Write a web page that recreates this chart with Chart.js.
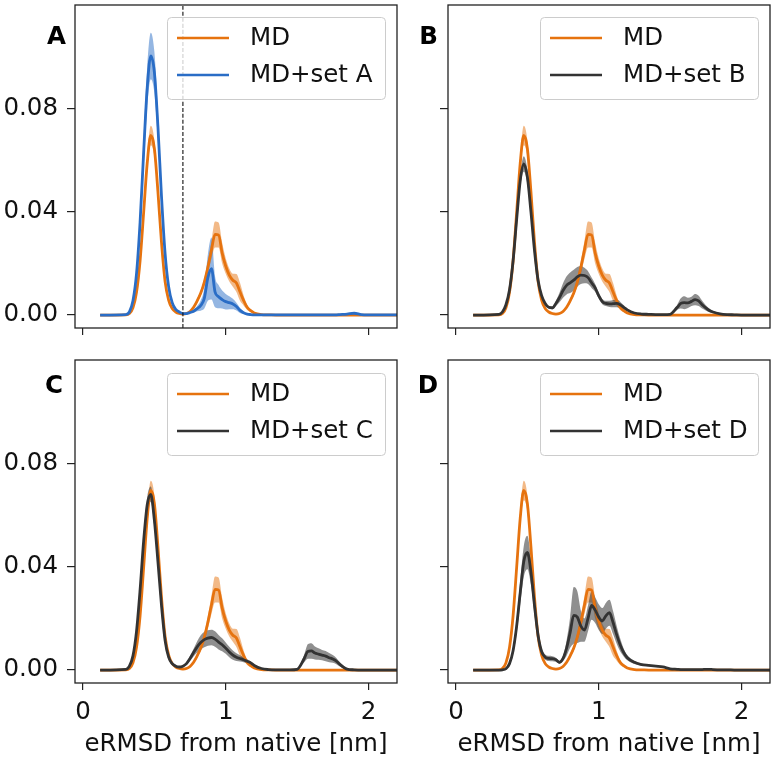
<!DOCTYPE html>
<html>
<head>
<meta charset="utf-8">
<script src="https://cdn.jsdelivr.net/npm/chart.js@4.4.0/dist/chart.umd.min.js"></script>
<style>
  body { margin: 0; background: #fff; width: 775px; height: 762px; position: relative; overflow: hidden; }
  canvas { position: absolute; }
</style>
</head>
<body>
<canvas id="panelA" width="400" height="340" style="left:0;top:0"></canvas>
<canvas id="panelB" width="400" height="340" style="left:375px;top:0"></canvas>
<canvas id="panelC" width="400" height="422" style="left:0;top:340px"></canvas>
<canvas id="panelD" width="400" height="422" style="left:375px;top:340px"></canvas>
<script>
// eRMSD grid [nm]
const xs = [0.12, 0.3, 0.325, 0.35, 0.375, 0.4, 0.425, 0.45, 0.475, 0.5,
  0.525, 0.55, 0.575, 0.6, 0.625, 0.65, 0.675, 0.7, 0.725, 0.75,
  0.775, 0.8, 0.825, 0.85, 0.875, 0.9, 0.925, 0.95, 0.975, 1.0,
  1.025, 1.05, 1.075, 1.1, 1.125, 1.15, 1.175, 1.2, 1.25, 1.3,
  1.35, 1.4, 1.45, 1.5, 1.55, 1.575, 1.6, 1.625, 1.65, 1.675,
  1.7, 1.725, 1.75, 1.775, 1.8, 1.85, 1.9, 1.95, 2.0, 2.1,
  2.2];

// plain MD (same in every panel)
const md = [0, 0.0001, 0.0006, 0.0028, 0.0088, 0.021, 0.0397, 0.0588, 0.0695, 0.0645,
  0.0478, 0.0281, 0.0131, 0.0058, 0.0025, 0.0012, 0.0006, 0.0004, 0.0006, 0.0014,
  0.003, 0.0055, 0.0085, 0.0128, 0.0185, 0.0252, 0.0312, 0.031, 0.024, 0.019,
  0.0155, 0.0135, 0.0124, 0.009, 0.0057, 0.003, 0.0017, 0.0008, 0.0002, 0.0001,
  0, 0, 0, 0, 0, 0, 0, 0, 0, 0,
  0, 0, 0, 0, 0, 0, 0, 0, 0, 0,
  0];
const mdErr = [0, 0, 0, 0.0002, 0.0006, 0.0012, 0.002, 0.003, 0.0038, 0.0033,
  0.0024, 0.0015, 0.0008, 0.0004, 0.0002, 0.0001, 0, 0, 0, 0.0002,
  0.0004, 0.0007, 0.001, 0.0015, 0.0025, 0.0035, 0.005, 0.0048, 0.004, 0.003,
  0.0025, 0.0025, 0.0035, 0.0035, 0.002, 0.001, 0.0005, 0.0002, 0.0001, 0,
  0, 0, 0, 0, 0, 0, 0, 0, 0, 0,
  0, 0, 0, 0, 0, 0, 0, 0, 0, 0,
  0];

const setA = [0, 0.0002, 0.0012, 0.0055, 0.016, 0.036, 0.063, 0.088, 0.1003, 0.094,
  0.073, 0.046, 0.024, 0.011, 0.0048, 0.0022, 0.0012, 0.0006, 0.0006, 0.001,
  0.0015, 0.0025, 0.0037, 0.0065, 0.0145, 0.018, 0.009, 0.0071, 0.006, 0.0052,
  0.0048, 0.0043, 0.0033, 0.0018, 0.0009, 0.0004, 0.0002, 0.0001, 0.0001, 0.0001,
  0.0001, 0.0001, 0.0001, 0.0001, 0.0001, 0.0001, 0.0001, 0.0001, 0.0001, 0.0001,
  0.0001, 0.0001, 0.0001, 0.0001, 0.0002, 0.0004, 0.0007, 0.0002, 0.0001, 0.0001,
  0.0001];
const setAErr = [0, 0, 0.0002, 0.0008, 0.002, 0.004, 0.006, 0.008, 0.009, 0.008,
  0.006, 0.004, 0.0025, 0.0012, 0.0006, 0.0003, 0.0002, 0.0001, 0.0001, 0.0002,
  0.0005, 0.001, 0.002, 0.004, 0.009, 0.012, 0.006, 0.0045, 0.0035, 0.003,
  0.0025, 0.002, 0.0015, 0.001, 0.0005, 0.0002, 0.0001, 0, 0, 0,
  0, 0, 0, 0, 0, 0, 0, 0, 0, 0,
  0, 0, 0, 0, 0, 0.0002, 0.0003, 0.0001, 0, 0,
  0];

const setB = [0, 0.0003, 0.0012, 0.004, 0.0098, 0.021, 0.037, 0.052, 0.0585, 0.0535,
  0.04, 0.025, 0.0135, 0.0075, 0.0045, 0.003, 0.0028, 0.0045, 0.0068, 0.0095,
  0.0115, 0.0125, 0.0135, 0.0148, 0.0155, 0.0153, 0.0145, 0.0125, 0.0105, 0.0075,
  0.0052, 0.0045, 0.0043, 0.0044, 0.0045, 0.004, 0.003, 0.002, 0.0008, 0.0004,
  0.0003, 0.0002, 0.0002, 0.0003, 0.003, 0.0045, 0.0048, 0.0047, 0.0053, 0.006,
  0.0055, 0.004, 0.0028, 0.0018, 0.0012, 0.0005, 0.0002, 0.0001, 0, 0,
  0];
const setBErr = [0, 0, 0.0002, 0.0005, 0.001, 0.0015, 0.002, 0.0025, 0.003, 0.0028,
  0.0022, 0.0015, 0.001, 0.0006, 0.0005, 0.0005, 0.0006, 0.001, 0.0018, 0.0028,
  0.0035, 0.004, 0.004, 0.0038, 0.0035, 0.003, 0.0025, 0.002, 0.0015, 0.0012,
  0.001, 0.001, 0.0012, 0.0014, 0.0015, 0.0012, 0.0008, 0.0005, 0.0002, 0.0001,
  0, 0, 0, 0, 0.001, 0.002, 0.0025, 0.002, 0.0018, 0.0022,
  0.002, 0.0015, 0.001, 0.0007, 0.0005, 0.0002, 0.0001, 0, 0, 0,
  0];

const setC = [0, 0.0003, 0.0015, 0.0055, 0.015, 0.031, 0.05, 0.064, 0.068, 0.058,
  0.042, 0.025, 0.0115, 0.005, 0.0025, 0.0015, 0.0012, 0.0015, 0.0025, 0.0045,
  0.0068, 0.009, 0.0107, 0.0118, 0.0124, 0.0126, 0.012, 0.0108, 0.0098, 0.0085,
  0.007, 0.0058, 0.005, 0.0045, 0.004, 0.0034, 0.0028, 0.0018, 0.0006, 0.0002,
  0.0001, 0.0001, 0.0001, 0.0003, 0.0045, 0.0072, 0.0074, 0.0066, 0.0062, 0.0058,
  0.0054, 0.0048, 0.0043, 0.0035, 0.0022, 0.0004, 0.0001, 0, 0, 0,
  0];
const setCErr = [0, 0, 0.0003, 0.0008, 0.0015, 0.002, 0.0025, 0.003, 0.003, 0.0028,
  0.0022, 0.0015, 0.001, 0.0005, 0.0003, 0.0002, 0.0002, 0.0003, 0.0005, 0.001,
  0.0015, 0.0022, 0.0028, 0.003, 0.003, 0.003, 0.003, 0.0028, 0.0025, 0.0022,
  0.002, 0.0018, 0.0015, 0.0012, 0.001, 0.0008, 0.0006, 0.0004, 0.0002, 0.0001,
  0, 0, 0, 0, 0.0015, 0.0028, 0.003, 0.0025, 0.0022, 0.002,
  0.002, 0.0018, 0.0015, 0.0012, 0.0008, 0.0002, 0, 0, 0, 0,
  0];

const setD = [0, 0, 0.0001, 0.0005, 0.0025, 0.0075, 0.017, 0.03, 0.042, 0.0455,
  0.038, 0.025, 0.0135, 0.0072, 0.005, 0.0045, 0.0044, 0.004, 0.003, 0.0045,
  0.0085, 0.0146, 0.0212, 0.0205, 0.017, 0.0155, 0.02, 0.025, 0.0232, 0.0205,
  0.019, 0.021, 0.0222, 0.0185, 0.0138, 0.0098, 0.0068, 0.0048, 0.003, 0.0021,
  0.0018, 0.0015, 0.0012, 0.0005, 0.0003, 0.0002, 0.0002, 0.0002, 0.0002, 0.0002,
  0.0002, 0.0002, 0.0003, 0.0003, 0.0002, 0.0001, 0.0001, 0, 0, 0,
  0];
const setDErr = [0, 0, 0, 0.0002, 0.0008, 0.0015, 0.003, 0.0045, 0.006, 0.0065,
  0.005, 0.0035, 0.002, 0.0012, 0.001, 0.001, 0.001, 0.0008, 0.0006, 0.001,
  0.003, 0.006, 0.011, 0.01, 0.006, 0.0045, 0.005, 0.0055, 0.005, 0.005,
  0.005, 0.005, 0.005, 0.0045, 0.0035, 0.0025, 0.0015, 0.001, 0.0006, 0.0004,
  0.0003, 0.0003, 0.0002, 0.0001, 0, 0, 0, 0, 0, 0,
  0, 0, 0, 0, 0, 0, 0, 0, 0, 0,
  0];

const xTicks = [0, 1, 2];
const yTicks = [0, 0.04, 0.08];
const xMin = -0.056, xMax = 2.2, yMin = -0.005, yMax = 0.12;
const nativeCut = 0.7;

const FONT = "'DejaVu Sans', sans-serif";
const FS = 24.5;
const ORANGE = '#e6730f', BLUE = '#2a6dc6', DARK = '#333333';

function pts(ys) { return xs.map((x, i) => ({ x: x, y: ys[i] })); }
function edge(vals, err, sign) { return vals.map((v, i) => Math.max(0, v + sign * err[i])); }

const decor = {
  id: 'decor',
  afterDraw(chart, args, o) {
    const ctx = chart.ctx, a = chart.chartArea;
    ctx.save();
    ctx.strokeStyle = '#222';
    ctx.lineWidth = 1.3;
    ctx.strokeRect(a.left, a.top, a.right - a.left, a.bottom - a.top);

    ctx.font = 'bold ' + FS + 'px ' + FONT;
    ctx.fillStyle = '#000';
    ctx.textAlign = 'right';
    ctx.textBaseline = 'alphabetic';
    ctx.fillText(o.letter, a.left - o.letterDx, a.top + o.letterDy);

    // legend box inside the axes
    const w = 218, h = 82;
    const bx = a.right - 12 - w, by = a.top + o.legendDy;
    ctx.beginPath();
    ctx.roundRect(bx + 0.5, by + 0.5, w, h, 4);
    ctx.fillStyle = 'rgba(255,255,255,0.8)';
    ctx.fill();
    ctx.strokeStyle = '#cccccc';
    ctx.lineWidth = 1;
    ctx.stroke();
    o.items.forEach((it, i) => {
      const y = by + 21 + i * 37;
      ctx.beginPath();
      ctx.moveTo(bx + 10, y);
      ctx.lineTo(bx + 62, y);
      ctx.strokeStyle = it.color;
      ctx.lineWidth = 2.5;
      ctx.stroke();
      ctx.font = FS + 'px ' + FONT;
      ctx.fillStyle = '#111';
      ctx.textAlign = 'left';
      ctx.textBaseline = 'middle';
      ctx.fillText(it.label, bx + 83, y + 1);
    });
    ctx.restore();
  }
};

function drawPanel(id, p) {
  const bandStyle = { borderWidth: 0, borderColor: 'transparent', pointRadius: 0 };
  const datasets = [
    Object.assign({ data: pts(edge(md, mdErr, -1)), fill: false, order: 6 }, bandStyle),
    Object.assign({ data: pts(edge(md, mdErr, 1)), fill: '-1', backgroundColor: 'rgba(230,115,15,0.5)', order: 5 }, bandStyle),
    Object.assign({ data: pts(edge(p.values, p.err, -1)), fill: false, order: 4 }, bandStyle),
    Object.assign({ data: pts(edge(p.values, p.err, 1)), fill: '-1', backgroundColor: p.band, order: 3 }, bandStyle),
    { data: pts(md), borderColor: ORANGE, borderWidth: 2.8, pointRadius: 0, fill: false, order: 2 },
    { data: pts(p.values), borderColor: p.color, borderWidth: 2.8, pointRadius: 0, fill: false, order: 1 }
  ];
  if (p.cut) {
    datasets.push({ data: [{ x: p.cut, y: yMin }, { x: p.cut, y: yMax }], borderColor: '#111', borderWidth: 1.1,
      borderDash: [4, 2], pointRadius: 0, fill: false, order: 0 });
  }

  new Chart(document.getElementById(id), {
    type: 'line',
    data: { datasets: datasets },
    options: {
      responsive: false,
      devicePixelRatio: 1,
      animation: false,
      events: [],
      layout: { padding: p.padding },
      elements: { line: { cubicInterpolationMode: 'monotone' } },
      scales: {
        x: {
          type: 'linear', min: xMin, max: xMax,
          afterBuildTicks: s => { s.ticks = xTicks.map(v => ({ value: v })); },
          afterFit: s => { s.height = p.xHeight; s.paddingLeft = 0; s.paddingRight = 0; },
          ticks: { callback: v => p.xLabels ? String(v) : '', autoSkip: false, maxRotation: 0,
            padding: 8, color: '#111', font: { family: FONT, size: FS } },
          grid: { drawOnChartArea: false, tickLength: 7, color: '#222', lineWidth: 1.2 },
          border: { display: false },
          title: { display: p.xLabels, text: 'eRMSD from native [nm]', color: '#111',
            font: { family: FONT, size: FS }, padding: { top: 0, bottom: 2.6 } }
        },
        y: {
          type: 'linear', min: yMin, max: yMax,
          afterBuildTicks: s => { s.ticks = yTicks.map(v => ({ value: v })); },
          afterFit: s => { s.width = p.yWidth; s.paddingTop = 0; s.paddingBottom = 0; },
          ticks: { callback: v => p.yLabels ? v.toFixed(2) : '', autoSkip: false,
            padding: 9, color: '#111', font: { family: FONT, size: FS } },
          grid: { drawOnChartArea: false, tickLength: 8, color: '#222', lineWidth: 1.2 },
          border: { display: false }
        }
      },
      plugins: {
        legend: { display: false },
        tooltip: { enabled: false },
        decor: {
          letter: p.letter, letterDx: p.letterDx, letterDy: p.letterDy, legendDy: p.legendDy,
          items: [{ label: 'MD', color: ORANGE }, { label: p.name, color: p.color }]
        }
      }
    },
    plugins: [decor]
  });
}

const GREY_BAND = 'rgba(51,51,51,0.55)';

drawPanel('panelA', { letter: 'A', name: 'MD+set A', values: setA, err: setAErr, color: BLUE,
  band: 'rgba(42,109,198,0.5)', cut: nativeCut, xLabels: false, yLabels: true,
  padding: { left: 0, top: 5, right: 3, bottom: 0 }, yWidth: 75, xHeight: 12,
  letterDx: 9, letterDy: 39, legendDy: 12 });
drawPanel('panelB', { letter: 'B', name: 'MD+set B', values: setB, err: setBErr, color: DARK,
  band: GREY_BAND, xLabels: false, yLabels: false,
  padding: { left: 0, top: 5, right: 5, bottom: 0 }, yWidth: 73, xHeight: 12,
  letterDx: 10, letterDy: 39, legendDy: 12 });
drawPanel('panelC', { letter: 'C', name: 'MD+set C', values: setC, err: setCErr, color: DARK,
  band: GREY_BAND, xLabels: true, yLabels: true,
  padding: { left: 0, top: 20, right: 3, bottom: 0 }, yWidth: 75, xHeight: 79,
  letterDx: 12, letterDy: 33, legendDy: 13 });
drawPanel('panelD', { letter: 'D', name: 'MD+set D', values: setD, err: setDErr, color: DARK,
  band: GREY_BAND, xLabels: true, yLabels: false,
  padding: { left: 0, top: 20, right: 5, bottom: 0 }, yWidth: 73, xHeight: 79,
  letterDx: 10, letterDy: 33, legendDy: 13 });
</script>
</body>
</html>
